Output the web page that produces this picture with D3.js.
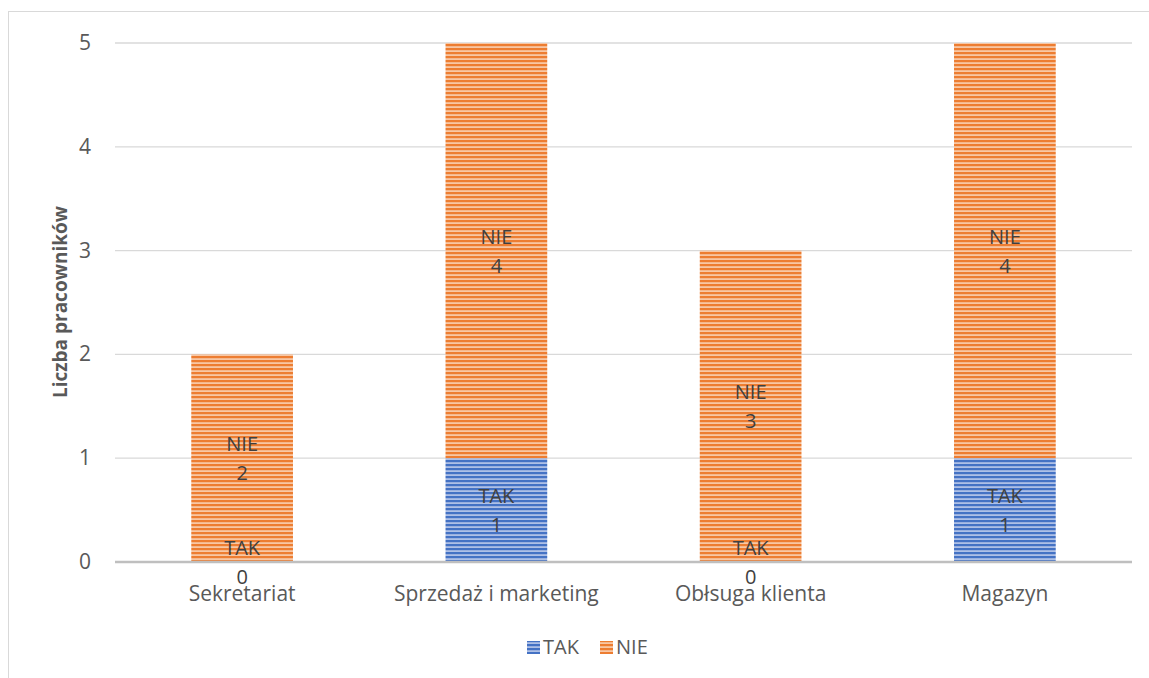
<!DOCTYPE html>
<html><head><meta charset="utf-8">
<script src="https://cdn.jsdelivr.net/npm/d3@7"></script>
<style>body{margin:0;background:#fff;}</style>
</head><body>
<svg id="c" width="1149" height="678"></svg>
<script>
const categories = ["Sekretariat","Sprzedaż i marketing","Obłsuga klienta","Magazyn"];
const seriesNames = ["TAK","NIE"];
const takValues = [0,1,0,1];
const nieValues = [2,4,3,4];
const yTicks = [0,1,2,3,4,5];
const colors = {TAK:["#4472c4","#aec0e6"], NIE:["#ed7d31","#f8c7a4"]};

(function(){
const svg = d3.select("#c");
const font = "'Open Sans', 'Noto Sans', sans-serif";
const defs = svg.append("defs");
seriesNames.forEach(s=>{
  const p = defs.append("pattern").attr("id","pat"+s).attr("patternUnits","userSpaceOnUse")
    .attr("width",8).attr("height",4).attr("y",0);
  p.append("rect").attr("width",8).attr("height",4).attr("fill",colors[s][1]);
  p.append("rect").attr("y",0).attr("width",8).attr("height",2.2).attr("fill",colors[s][0]);
});

svg.append("rect").attr("x",8.5).attr("y",11.5).attr("width",1160).attr("height",700)
  .attr("fill","none").attr("stroke","#d9d9d9");

const pl=115, pr=1132, pt=43, pb=562;
const x = d3.scaleBand().domain(categories).range([pl,pr]).paddingInner(0.6).paddingOuter(0.3);
const y = d3.scaleLinear().domain([0,5]).range([pb,pt]);

const g = svg.append("g");
g.selectAll("line.grid").data(yTicks.filter(d=>d>0)).enter().append("line")
  .attr("x1",pl).attr("x2",pr).attr("y1",d=>y(d)).attr("y2",d=>y(d))
  .attr("stroke","#d9d9d9").attr("stroke-width",1.3);

g.selectAll("text.yt").data(yTicks).enter().append("text")
  .attr("x",91).attr("y",d=>y(d)+7).attr("text-anchor","end")
  .attr("font-family",font).attr("font-size",21).attr("fill","#595959").text(d=>d);

const data = categories.map((c,i)=>({c, tak:takValues[i], nie:nieValues[i]}));
data.forEach(d=>{
  const bx = x(d.c), bw = x.bandwidth();
  if(d.tak>0) g.append("rect").attr("x",bx).attr("width",bw).attr("y",y(d.tak)).attr("height",y(0)-y(d.tak)).attr("fill","url(#patTAK)");
  g.append("rect").attr("x",bx).attr("width",bw).attr("y",y(d.tak+d.nie)).attr("height",y(d.tak)-y(d.tak+d.nie)).attr("fill","url(#patNIE)");
});

g.append("line").attr("x1",pl).attr("x2",pr).attr("y1",pb).attr("y2",pb)
  .attr("stroke","#bfbfbf").attr("stroke-width",2.5);

function lab(cx, cy, name, val){
  g.append("text").attr("x",cx).attr("y",cy-7).attr("text-anchor","middle")
    .attr("font-family",font).attr("font-size",20).attr("fill","#404040").text(name);
  g.append("text").attr("x",cx).attr("y",cy+22).attr("text-anchor","middle")
    .attr("font-family",font).attr("font-size",20).attr("fill","#404040").text(val);
}
data.forEach(d=>{
  const cx = x(d.c)+x.bandwidth()/2;
  lab(cx, (y(0)+y(d.tak))/2, "TAK", d.tak);
  lab(cx, (y(d.tak)+y(d.tak+d.nie))/2, "NIE", d.nie);
});

g.selectAll("text.xc").data(categories).enter().append("text")
  .attr("x",d=>x(d)+x.bandwidth()/2).attr("y",601).attr("text-anchor","middle")
  .attr("font-family",font).attr("font-size",21).attr("fill","#595959").text(d=>d);

svg.append("text").attr("transform","translate(67,302) rotate(-90)").attr("text-anchor","middle")
  .attr("font-family",font).attr("font-size",19).attr("font-weight","bold").attr("fill","#595959")
  .text("Liczba pracowników");

const leg = [{n:"TAK",x:527},{n:"NIE",x:600}];
leg.forEach(l=>{
  svg.append("rect").attr("x",l.x).attr("y",641).attr("width",13).attr("height",13).attr("fill","url(#pat"+l.n+")");
  svg.append("text").attr("x",l.x+16).attr("y",654).attr("font-family",font).attr("font-size",20)
    .attr("fill","#595959").text(l.n);
});
})();
</script>
</body></html>
